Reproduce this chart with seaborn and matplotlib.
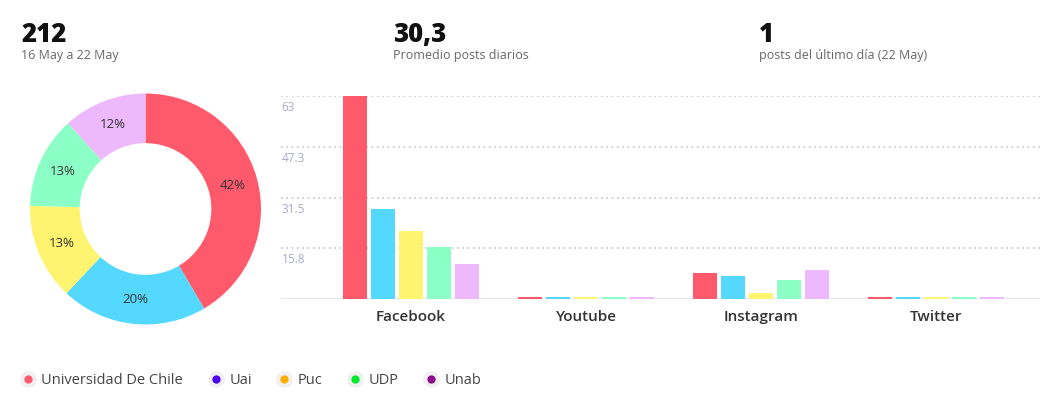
import pandas as pd
import matplotlib
matplotlib.use('Agg')
from matplotlib import pyplot as plt
from matplotlib.lines import Line2D
from matplotlib import transforms
import seaborn as sns

# data
universidades = ['Universidad De Chile', 'Uai', 'Puc', 'UDP', 'Unab']
redes = ['Facebook', 'Youtube', 'Instagram', 'Twitter']
facebook = [63, 28, 21, 16, 11]
youtube = [0.5, 0.5, 0.5, 0.5, 0.5]
instagram = [8, 7, 2, 6, 9]
twitter = [0.5, 0.5, 0.5, 0.5, 0.5]
pie_values = [71, 35, 23, 22, 20]
yticks = [15.8, 31.5, 47.3, 63]
ytick_labels = ['15.8', '31.5', '47.3', '63']
headers = [('212', '16 May a 22 May'),
           ('30,3', 'Promedio posts diarios'),
           ('1', 'posts del último día (22 May)')]

bar_colors = ['#ff5a6b', '#55d8fe', '#fff46f', '#8bffc6', '#edb9fc']
legend_colors = ['#ff5a6b', '#4b00f5', '#ffab00', '#00ea2c', '#8a0a8a']

sns.set_style('white')
plt.rcParams['font.family'] = ['Open Sans', 'DejaVu Sans']

df = pd.DataFrame({
    'red': [r for r in redes for u in universidades],
    'uni': universidades * 4,
    'posts': facebook + youtube + instagram + twitter,
})

W, H = 1058, 399
fig = plt.figure(figsize=(W / 100, H / 100), dpi=100)

# header numbers
for (big, small), x in zip(headers, [21, 393, 759]):
    fig.text(x / W, 1 - 42 / H, big, fontsize=18.5, fontweight='heavy', color='#111111')
    fig.text(x / W, 1 - 59 / H, small, fontsize=9, color='#666666')

# donut
cx, cy, r = 145.5, 209, 115.5
axp = fig.add_axes([(cx - r) / W, 1 - (cy + r) / H, 2 * r / W, 2 * r / H])
axp.pie(pie_values, colors=bar_colors, startangle=90, counterclock=False,
        autopct=lambda p: f'{p:.0f}%', pctdistance=0.785,
        wedgeprops=dict(width=0.43, linewidth=0),
        textprops=dict(fontsize=9.5, color='#333333'))
axp.set_xlim(-1, 1)
axp.set_ylim(-1, 1)
axp.set_aspect('equal')

# bars
ax = fig.add_axes([281 / W, 1 - 299 / H, (1040 - 281) / W, (299 - 96) / H])
ax.axhline(0, color='#e2e2ec', linewidth=1.2, zorder=0)
sns.barplot(data=df, x='red', y='posts', hue='uni', palette=bar_colors, saturation=1,
            width=0.8, gap=0.12, ax=ax, legend=False, linewidth=0, zorder=2)
ax.set_ylim(0, 63)
ax.set_xlim(-0.743, 3.594)
tr = transforms.blended_transform_factory(ax.transAxes, ax.transData)
for t, lab in zip(yticks, ytick_labels):
    ax.axhline(t, color='#c6c6da', linestyle=(0, (1, 2.2)), linewidth=1.2, zorder=0)
    ax.text(0.001, t - 1.6, lab, transform=tr, va='top', ha='left',
            fontsize=8.5, color='#a9aac4')
ax.set_yticks([])
ax.set_xlabel('')
ax.set_ylabel('')
ax.tick_params(axis='x', length=0, pad=8)
for lab in ax.get_xticklabels():
    lab.set_fontsize(11)
    lab.set_fontweight('semibold')
    lab.set_color('#333333')
sns.despine(ax=ax, left=True, bottom=True)

# legend
handles = [Line2D([], [], marker='o', linestyle='', markersize=9,
                  markerfacecolor=c, markeredgecolor='#f0f0f0', markeredgewidth=3)
           for c in legend_colors]
fig.legend(handles, universidades, loc='center left', bbox_to_anchor=(5 / W, 1 - 381 / H),
           ncol=5, frameon=False, fontsize=10.5, handletextpad=0.2, columnspacing=1.55,
           handlelength=1.4, labelcolor='#444444')

fig.savefig('out.png', dpi=100)
